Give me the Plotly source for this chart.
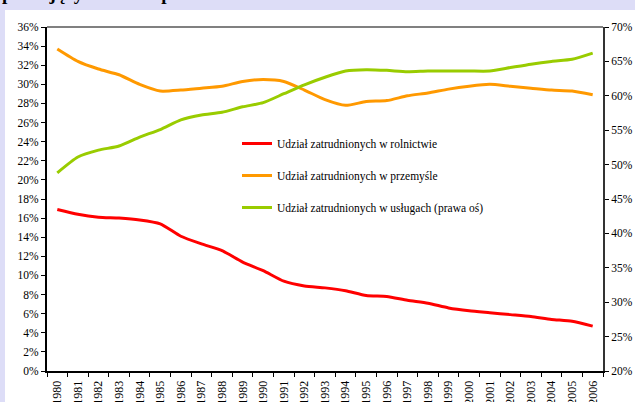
import plotly.graph_objects as go

years = [str(y) for y in range(1980, 2007)]

rolnictwo = [16.9, 16.4, 16.1, 16.0, 15.8, 15.4, 14.1, 13.3, 12.6, 11.4, 10.5, 9.4, 8.9,
             8.7, 8.4, 7.9, 7.8, 7.4, 7.1, 6.6, 6.3, 6.1, 5.9, 5.7, 5.4, 5.2, 4.7]
przemysl = [33.7, 32.4, 31.6, 31.0, 30.0, 29.3, 29.4, 29.6, 29.8, 30.3, 30.5, 30.3, 29.4,
            28.4, 27.8, 28.2, 28.3, 28.8, 29.1, 29.5, 29.8, 30.0, 29.8, 29.6, 29.4, 29.3, 28.9]
uslugi = [48.8, 51.1, 52.1, 52.7, 54.0, 55.1, 56.5, 57.2, 57.6, 58.4, 59.0, 60.3, 61.6,
          62.7, 63.6, 63.8, 63.7, 63.5, 63.6, 63.6, 63.6, 63.6, 64.1, 64.6, 65.0, 65.3, 66.2]

names = ["Udział zatrudnionych w rolnictwie",
         "Udział zatrudnionych w przemyśle",
         "Udział zatrudnionych w usługach (prawa oś)"]
title_text = "pracujących w Hiszpanii w latach 1980-2006"

SERIF = "Liberation Serif, Times New Roman, serif"

fig = go.Figure()
fig.add_trace(go.Scatter(x=years, y=rolnictwo, name=names[0], mode="lines",
                         line=dict(color="#FF0000", width=3, shape="spline", smoothing=0.6),
                         legendgroup="a"))
fig.add_trace(go.Scatter(x=years, y=przemysl, name=names[1], mode="lines",
                         line=dict(color="#FF9900", width=3, shape="spline", smoothing=0.6),
                         legendgroup="b"))
fig.add_trace(go.Scatter(x=years, y=uslugi, name=names[2], mode="lines", yaxis="y2",
                         line=dict(color="#99CC00", width=3, shape="spline", smoothing=0.6),
                         legendgroup="c"))

W, H = 635, 402
L, R, T, B = 47, 32, 27, 31
pw, ph = W - L - R, H - T - B

def px_x(x):
    return (x - L) / pw

def px_y(y):
    return (H - B - y) / ph

fig.update_layout(
    width=W, height=H,
    margin=dict(l=L, r=R, t=T, b=B, pad=0, autoexpand=False),
    paper_bgcolor="#DDDDF7",
    plot_bgcolor="white",
    font=dict(family=SERIF, size=11, color="black"),
    showlegend=True,
    legend=dict(x=px_x(237), y=px_y(129), xanchor="left", yanchor="top",
                bgcolor="rgba(0,0,0,0)", font=dict(family=SERIF, size=11.5, color="black"),
                tracegroupgap=13, itemwidth=30),
    xaxis=dict(type="category", range=[-0.5, 26.5], tickson="boundaries",
               showline=True, linecolor="black", linewidth=2, mirror=False,
               ticks="outside", ticklen=4, tickcolor="black", tickwidth=1,
               tickangle=-90, tickfont=dict(family=SERIF, size=12),
               ticklabelstandoff=3, automargin=False,
               showgrid=False, zeroline=False),
    yaxis=dict(range=[0, 36], dtick=2, ticksuffix="%", automargin=False,
               showline=True, linecolor="black", linewidth=2,
               ticks="outside", ticklen=4, tickcolor="black",
               tickfont=dict(family=SERIF, size=11.5),
               showgrid=False, zeroline=False),
    yaxis2=dict(range=[20, 70], dtick=5, ticksuffix="%", overlaying="y", side="right",
                automargin=False,
                showline=True, linecolor="#333333", linewidth=2,
                ticks="outside", ticklen=4, tickcolor="black",
                tickfont=dict(family=SERIF, size=11.5),
                showgrid=False, zeroline=False),
    shapes=[
        dict(type="rect", xref="paper", yref="paper", layer="below",
             x0=px_x(5), x1=px_x(W + 5), y0=px_y(H + 5), y1=px_y(10),
             fillcolor="white", line=dict(width=0)),
        dict(type="line", xref="paper", yref="paper", x0=0, x1=1, y0=1, y1=1,
             line=dict(color="#808080", width=2)),
    ],
    annotations=[
        dict(text="<b>" + title_text + "</b>", xref="paper", yref="paper",
             x=px_x(0), y=px_y(6), xanchor="left", yanchor="bottom", showarrow=False,
             font=dict(family=SERIF, size=19, color="black")),
    ],
)

fig.write_html("out.html", config={"displayModeBar": False},
               post_script="document.body.style.margin='0';document.body.style.overflow='hidden';")
